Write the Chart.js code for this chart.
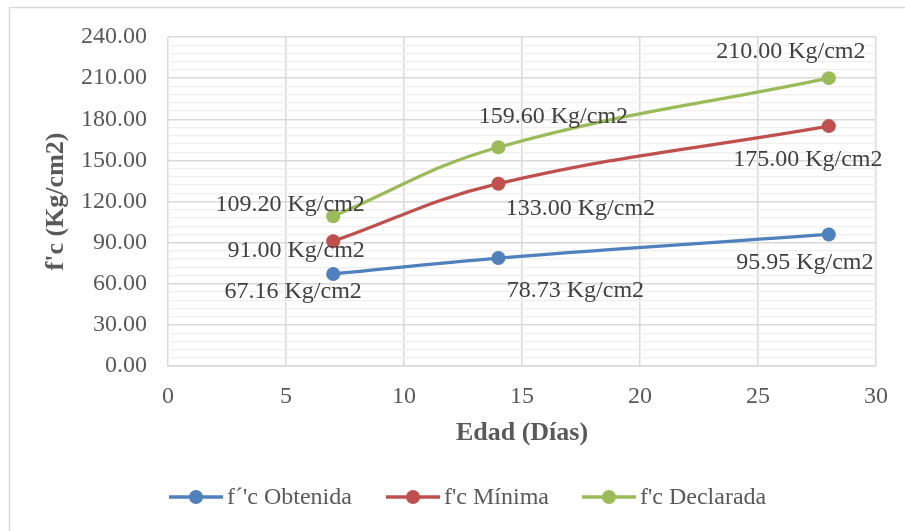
<!DOCTYPE html>
<html>
<head>
<meta charset="utf-8">
<script src="https://cdn.jsdelivr.net/npm/chart.js@4.4.1/dist/chart.umd.min.js"></script>
<style>
  html, body { margin: 0; padding: 0; background: #fff; }
  #wrap { width: 905px; height: 531px; position: relative; }
</style>
</head>
<body>
<div id="wrap"><canvas id="chart" width="905" height="531"></canvas></div>
<script>
// data
const edades = [7, 14, 28];
const obtenida = [67.16, 78.73, 95.95];
const minima = [91.00, 133.00, 175.00];
const declarada = [109.20, 159.60, 210.00];
const seriesNames = ["f\u00b4'c Obtenida", "f'c M\u00ednima", "f'c Declarada"];
const yTicks = [0, 30, 60, 90, 120, 150, 180, 210, 240];
const xTicks = [0, 5, 10, 15, 20, 25, 30];

const colors = ['#4F81BD', '#C0504D', '#9BBB59'];
const serif = '"Liberation Serif", "Times New Roman", serif';

// label offsets (px) from each point, per series
const labelOffsets = [
  [[-40, 18], [77, 33], [-24, 28]],
  [[-37, 9], [82, 25], [-21, 34]],
  [[-43, -12], [55, -31], [-38, -26]]
];

const toPoints = vals => vals.map((v, i) => ({ x: edades[i], y: v }));

const makeSet = (label, vals, color) => ({
  label: label,
  data: toPoints(vals),
  borderColor: color,
  backgroundColor: color,
  borderWidth: 3.3,
  pointRadius: 7,
  pointHoverRadius: 7,
  pointBorderWidth: 0,
  tension: 0.4,
  fill: false
});

// frame, data labels and legend drawn by hand
const extras = {
  id: 'extras',
  beforeDraw(chart) {
    const ctx = chart.ctx;
    ctx.save();
    ctx.fillStyle = '#fff';
    ctx.fillRect(0, 0, chart.width, chart.height);
    ctx.strokeStyle = '#d9d9d9';
    ctx.lineWidth = 1.5;
    ctx.beginPath();
    ctx.moveTo(9.5, chart.height);
    ctx.lineTo(9.5, 7.5);
    ctx.lineTo(chart.width, 7.5);
    ctx.stroke();
    ctx.restore();
  },
  afterDatasetsDraw(chart) {
    const ctx = chart.ctx;
    ctx.save();
    ctx.font = '24px ' + serif;
    ctx.fillStyle = '#404040';
    ctx.textAlign = 'center';
    ctx.textBaseline = 'middle';
    chart.data.datasets.forEach((ds, di) => {
      const meta = chart.getDatasetMeta(di);
      meta.data.forEach((pt, i) => {
        const off = labelOffsets[di][i];
        ctx.fillText(ds.data[i].y.toFixed(2) + ' Kg/cm2', pt.x + off[0], pt.y + off[1]);
      });
    });

    // legend
    const ly = 497;
    const starts = [169, 386, 582];
    ctx.textAlign = 'left';
    chart.data.datasets.forEach((ds, di) => {
      const x0 = starts[di];
      ctx.strokeStyle = colors[di];
      ctx.lineWidth = 3.3;
      ctx.beginPath();
      ctx.moveTo(x0, ly);
      ctx.lineTo(x0 + 54, ly);
      ctx.stroke();
      ctx.fillStyle = colors[di];
      ctx.beginPath();
      ctx.arc(x0 + 27, ly, 7, 0, Math.PI * 2);
      ctx.fill();
      ctx.fillStyle = '#595959';
      ctx.fillText(ds.label, x0 + 58, ly + 1);
    });
    ctx.restore();
  }
};

new Chart(document.getElementById('chart'), {
  type: 'line',
  data: {
    datasets: [
      makeSet(seriesNames[0], obtenida, colors[0]),
      makeSet(seriesNames[1], minima, colors[1]),
      makeSet(seriesNames[2], declarada, colors[2])
    ]
  },
  options: {
    responsive: false,
    animation: false,
    events: [],
    layout: { padding: { left: 41, top: 37, right: 29, bottom: 82 } },
    plugins: {
      legend: { display: false },
      tooltip: { enabled: false }
    },
    scales: {
      x: {
        type: 'linear',
        min: xTicks[0],
        max: xTicks[xTicks.length - 1],
        afterBuildTicks: axis => { axis.ticks = xTicks.map(v => ({ value: v })); },
        afterFit: s => { s.height = 83; },
        ticks: {
          font: { family: serif, size: 24 },
          color: '#595959',
          padding: 16
        },
        grid: { color: '#d9d9d9', lineWidth: 1.5, drawTicks: false },
        border: { color: '#d9d9d9', width: 1.5 },
        title: {
          display: true,
          text: 'Edad (D\u00edas)',
          font: { family: serif, size: 26, weight: 'bold' },
          color: '#595959',
          padding: { top: 0, bottom: 0 }
        }
      },
      y: {
        min: yTicks[0],
        max: yTicks[yTicks.length - 1],
        afterFit: s => { s.width = 127; },
        ticks: {
          stepSize: 6,
          autoSkip: false,
          font: { family: serif, size: 24 },
          color: '#595959',
          padding: 21,
          callback: v => (v % 30 === 0 ? v.toFixed(2) : '')
        },
        grid: {
          color: c => (c.tick.value % 30 === 0 ? '#d9d9d9' : '#efefef'),
          lineWidth: c => (c.tick.value % 30 === 0 ? 1.5 : 1.2),
          drawTicks: false
        },
        border: { display: false },
        title: {
          display: true,
          text: "f'c (Kg/cm2)",
          font: { family: serif, size: 26, weight: 'bold' },
          color: '#595959',
          padding: { top: 0, bottom: 0 }
        }
      }
    }
  },
  plugins: [extras]
});
</script>
</body>
</html>
